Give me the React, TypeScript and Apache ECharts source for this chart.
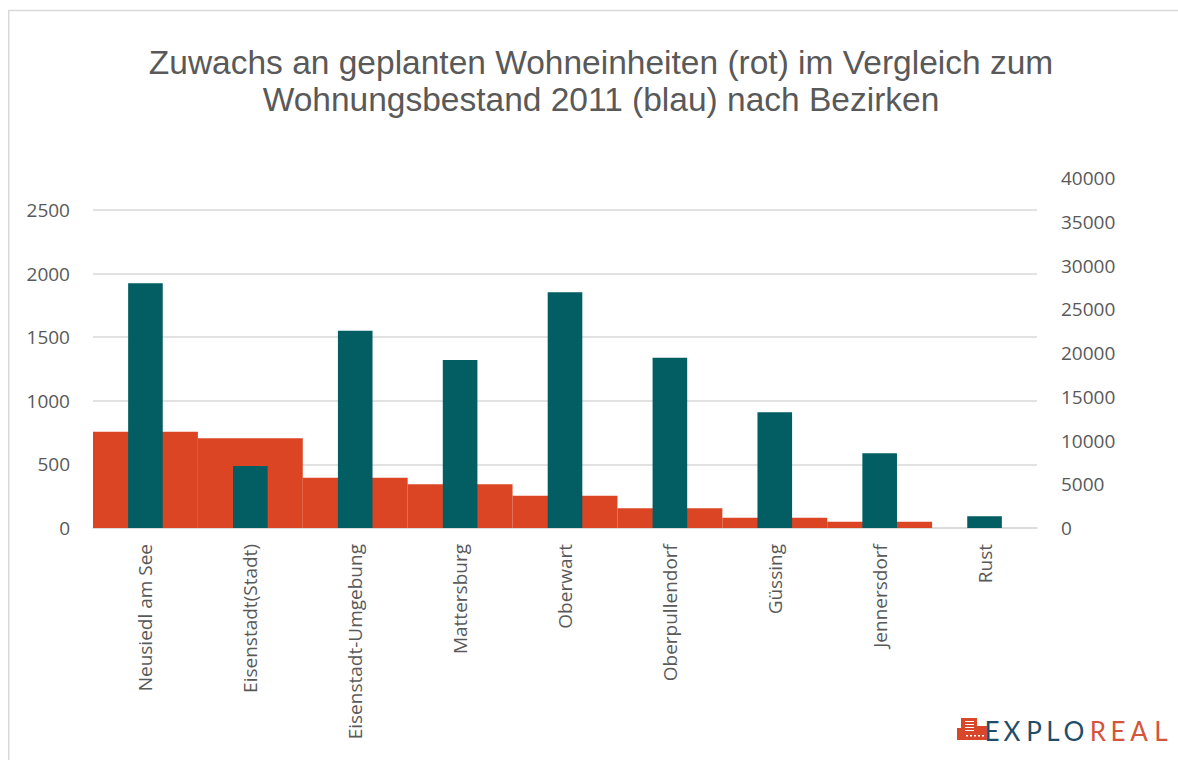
import React, { useEffect, useRef } from "react";
import * as echarts from "echarts";

const categories = [
  "Neusiedl am See",
  "Eisenstadt(Stadt)",
  "Eisenstadt-Umgebung",
  "Mattersburg",
  "Oberwart",
  "Oberpullendorf",
  "Güssing",
  "Jennersdorf",
  "Rust",
];
const plannedUnits = [757, 705, 395, 343, 254, 155, 81, 50, 0];
const housingStock2011 = [27970, 7090, 22550, 19200, 26930, 19470, 13220, 8530, 1330];
const leftTicks = { min: 0, max: 2500, interval: 500 };
const rightTicks = { min: 0, max: 40000, interval: 5000 };

const titleLines = [
  "Zuwachs an geplanten Wohneinheiten (rot) im Vergleich zum",
  "Wohnungsbestand 2011 (blau) nach Bezirken",
];

const logoLetters = [
  { t: "E", x: 984, c: "#1f4d69" },
  { t: "X", x: 1004, c: "#1f4d69" },
  { t: "P", x: 1026, c: "#1f4d69" },
  { t: "L", x: 1045, c: "#1f4d69" },
  { t: "O", x: 1066, c: "#1f4d69" },
  { t: "R", x: 1090, c: "#d4553a" },
  { t: "E", x: 1110, c: "#d4553a" },
  { t: "A", x: 1131, c: "#d4553a" },
  { t: "L", x: 1153, c: "#d4553a" },
];

const TEXT = "#595959";
const FONT = "Open Sans";

export default function App() {
  const ref = useRef<HTMLDivElement>(null);
  useEffect(() => {
    if (!ref.current) return;
    const chart = echarts.init(ref.current, undefined, { renderer: "svg" });
    const labelStyle = { color: TEXT, fontSize: 19, fontFamily: FONT };
    const plain = (v: number) => String(v);
    const option: any = {
      animation: false,
      backgroundColor: "#ffffff",
      grid: [
        { left: 85, right: 141, top: 202, bottom: 232 },
        { left: 85, right: 141, top: 170, bottom: 232 },
      ],
      xAxis: [
        {
          type: "category",
          gridIndex: 0,
          data: categories,
          axisLine: { lineStyle: { color: "#d9d9d9", width: 1.5 } },
          axisTick: { show: false },
          axisLabel: { ...labelStyle, rotate: 90, margin: 16, interval: 0 },
        },
        {
          type: "category",
          gridIndex: 1,
          data: categories,
          show: false,
        },
      ],
      yAxis: [
        {
          type: "value",
          gridIndex: 0,
          ...leftTicks,
          axisLine: { show: false },
          axisTick: { show: false },
          axisLabel: { ...labelStyle, margin: 23, formatter: plain },
          splitLine: { lineStyle: { color: "#d9d9d9", width: 1.5 } },
        },
        {
          type: "value",
          gridIndex: 1,
          position: "right",
          ...rightTicks,
          axisLine: { show: false },
          axisTick: { show: false },
          axisLabel: { ...labelStyle, margin: 24, formatter: plain },
          splitLine: { show: false },
        },
      ],
      series: [
        {
          type: "bar",
          name: "Zuwachs geplante Wohneinheiten",
          xAxisIndex: 0,
          yAxisIndex: 0,
          data: plannedUnits,
          barWidth: "100%",
          itemStyle: { color: "#db4524" },
        },
        {
          type: "bar",
          name: "Wohnungsbestand 2011",
          xAxisIndex: 1,
          yAxisIndex: 1,
          data: housingStock2011,
          barWidth: "33%",
          itemStyle: { color: "#025e63" },
        },
      ],
      graphic: [
        {
          type: "line",
          shape: { x1: 0, y1: 2.5, x2: 1200, y2: 2.5 },
          style: { stroke: "#d9d9d9", lineWidth: 1.5 },
          silent: true,
        },
        {
          type: "line",
          shape: { x1: 0.75, y1: 2, x2: 0.75, y2: 800 },
          style: { stroke: "#d9d9d9", lineWidth: 1.5 },
          silent: true,
        },
        ...titleLines.map((t, i) => ({
          type: "text",
          x: 593,
          y: 54 + i * 37.5,
          style: {
            text: t,
            fill: TEXT,
            font: `33.5px "Liberation Sans"`,
            textAlign: "center",
            textVerticalAlign: "middle",
          },
        })),
        { type: "rect", shape: { x: 949, y: 720, width: 9, height: 12 }, style: { fill: "#d9472b" } },
        { type: "rect", shape: { x: 953, y: 710, width: 16, height: 22 }, style: { fill: "#d9472b" } },
        { type: "rect", shape: { x: 969, y: 718, width: 10, height: 14 }, style: { fill: "#d9472b" } },
        ...[713, 716, 719, 722].map((yy) => ({
          type: "rect",
          shape: { x: 957, y: yy, width: 9, height: 1 },
          style: { fill: "#ffffff" },
        })),
        ...[958, 962, 966, 970, 974].map((xx) => ({
          type: "rect",
          shape: { x: xx, y: 727, width: 2, height: 1.5 },
          style: { fill: "#ffffff" },
        })),
        ...logoLetters.map((l) => ({
          type: "text",
          x: l.x,
          y: 723,
          style: {
            text: l.t,
            fill: l.c,
            font: `26px Lato`,
            textAlign: "center",
            textVerticalAlign: "middle",
          },
        })),
      ],
    };
    chart.setOption(option);
    return () => chart.dispose();
  }, []);
  return (
    <div
      ref={ref}
      style={{ position: "fixed", left: 8, top: 8, width: 1170, height: 752 }}
    />
  );
}
